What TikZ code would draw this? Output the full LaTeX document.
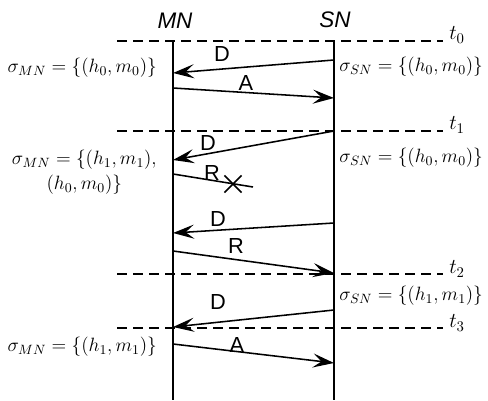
\RequirePackage{fix-cm}
\documentclass[tikz,border=0pt]{standalone}
\usepackage{fontspec}
\setsansfont{Liberation Sans}
\usetikzlibrary{arrows.meta,shapes.misc}

\tikzstyle{lifeline} = [draw, line width=1.2pt]
\tikzstyle{timeline} = [draw, line width=1.1pt, dash pattern=on 0.25cm off 0.15cm]
\tikzstyle{line} = [draw, line width=1.1pt, -{Stealth[length=15pt,width=10pt,inset=6pt]}]
\tikzstyle{lost} = [draw, line width=1.1pt]
\tikzstyle{msg} = [font=\sffamily\fontsize{15.5}{18}\selectfont, inner sep=0pt]
\tikzstyle{actor} = [font=\sffamily\itshape\fontsize{16}{18}\selectfont, inner sep=0pt]
\tikzstyle{state} = [font=\fontsize{13.7}{17.5}\selectfont, inner sep=0pt, align=center]
\tikzstyle{tick} = [font=\fontsize{15}{18}\selectfont, inner sep=0pt]

\begin{document}
\begin{tikzpicture}[x=0.025cm, y=-0.025cm]
    \useasboundingbox (0,0) rectangle (488,401);
    % Place nodes
    \node [actor] (mn) at (175,21) {MN};
    \node [actor] (sn) at (335,20) {SN};
    \coordinate (mn_top) at (173,41);
    \coordinate (mn_bot) at (173,400);
    \coordinate (sn_top) at (334,41);
    \coordinate (sn_bot) at (334,400);

    \coordinate (t0_start) at (117,41);
    \coordinate (t0_end) at (443,41);
    \node [tick, anchor=west] (t0) at (449,35) {$t_0$};
    \coordinate (t1_start) at (117,131);
    \coordinate (t1_end) at (443,131);
    \node [tick, anchor=west] (t1) at (449,125) {$t_1$};
    \coordinate (t2_start) at (117,274);
    \coordinate (t2_end) at (443,274);
    \node [tick, anchor=west] (t2) at (449,269) {$t_2$};
    \coordinate (t3_start) at (117,328);
    \coordinate (t3_end) at (443,328);
    \node [tick, anchor=west] (t3) at (449,323) {$t_3$};

    \node [state, anchor=east] (mn_state0) at (157,68) {$\sigma_{MN}=\{(h_0,m_0)\}$};
    \node [state, anchor=west] (sn_state0) at (339,67) {$\sigma_{SN}=\{(h_0,m_0)\}$};
    \node [state, anchor=east] (mn_state1) at (157,172) {$\sigma_{MN}=\{(h_1,m_1),$\\$(h_0,m_0)\}$};
    \node [state, anchor=west] (sn_state1) at (339,158) {$\sigma_{SN}=\{(h_0,m_0)\}$};
    \node [state, anchor=west] (sn_state2) at (339,296) {$\sigma_{SN}=\{(h_1,m_1)\}$};
    \node [state, anchor=east] (mn_state2) at (157,347) {$\sigma_{MN}=\{(h_1,m_1)\}$};

    \coordinate (d1_s) at (334,60);
    \coordinate (d1_m) at (173,73);
    \node [msg] (d1) at (222,54) {D};
    \coordinate (a1_m) at (173,88);
    \coordinate (a1_s) at (334,98);
    \node [msg] (a1) at (246,83) {A};
    \coordinate (d2_s) at (334,131);
    \coordinate (d2_m) at (173,160);
    \node [msg] (d2) at (208,143) {D};
    \coordinate (r1_m) at (173,174);
    \coordinate (r1_end) at (253,187);
    \node [msg] (r1) at (212,173) {R};
    \node [draw, cross out, line width=1.1pt, minimum size=11pt, inner sep=0pt] (r1_lost) at (233,184) {};
    \coordinate (d3_s) at (334,223);
    \coordinate (d3_m) at (173,233);
    \node [msg] (d3) at (218,219) {D};
    \coordinate (r2_m) at (173,251);
    \coordinate (r2_s) at (334,273);
    \node [msg] (r2) at (236,246) {R};
    \coordinate (d4_s) at (334,310);
    \coordinate (d4_m) at (173,327);
    \node [msg] (d4) at (218,302) {D};
    \coordinate (a2_m) at (173,344);
    \coordinate (a2_s) at (334,363);
    \node [msg] (a2) at (237,345) {A};

    % Draw edges
    \path [lifeline] (mn_top) -- (mn_bot);
    \path [lifeline] (sn_top) -- (sn_bot);
    \path [timeline] (t0_start) -- (t0_end);
    \path [timeline] (t1_start) -- (t1_end);
    \path [timeline] (t2_start) -- (t2_end);
    \path [timeline] (t3_start) -- (t3_end);
    \path [line] (d1_s) -- (d1_m);
    \path [line] (a1_m) -- (a1_s);
    \path [line] (d2_s) -- (d2_m);
    \path [lost] (r1_m) -- (r1_end);
    \path [line] (d3_s) -- (d3_m);
    \path [line] (r2_m) -- (r2_s);
    \path [line] (d4_s) -- (d4_m);
    \path [line] (a2_m) -- (a2_s);

\end{tikzpicture}
\end{document}
